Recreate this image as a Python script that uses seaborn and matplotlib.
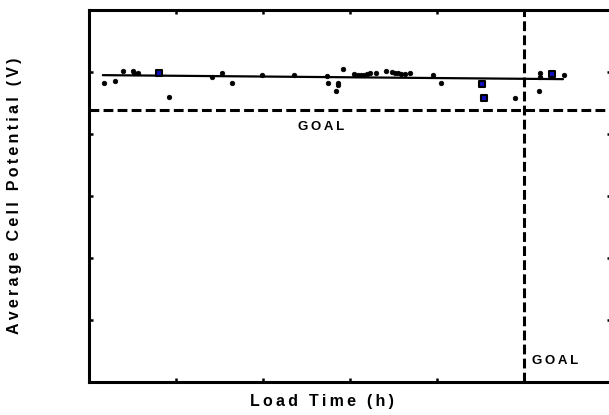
#!/usr/bin/env python3

import seaborn as sns
import matplotlib
matplotlib.use('Agg')
import matplotlib.pyplot as plt
import pandas as pd

# load time (h) and average cell potential (V)
time_black = [173, 301, 393, 509, 520, 566, 925, 1410, 1526, 1642, 1988, 2358,
              2740, 2751, 2867, 2867, 2844, 2925, 3052, 3064, 3098, 3133, 3168,
              3202, 3237, 3306, 3410, 3480, 3514, 3549, 3584, 3630, 3688, 3954,
              4046, 4902, 5191, 5191, 5179, 5457]
volt_black = [0.9645, 0.9710, 1.0032, 1.0032, 0.9968, 0.9968, 0.9194, 0.9839,
              0.9968, 0.9645, 0.9903, 0.9903, 0.9870, 0.9645, 0.9645, 0.9581,
              0.9387, 1.0097, 0.9935, 0.9903, 0.9903, 0.9903, 0.9903, 0.9935,
              0.9968, 0.9968, 1.0032, 1.0000, 0.9968, 0.9968, 0.9935, 0.9935,
              0.9968, 0.9903, 0.9645, 0.9161, 0.9968, 0.9839, 0.9387, 0.9903]
time_blue = [809, 4520, 4543, 5318]
volt_blue = [0.9968, 0.9613, 0.9161, 0.9935]

# linear trend
fit_time = [160, 5450]
fit_volt = [0.9903, 0.9774]

goal_time = 5000
goal_volt = 0.877

black_df = pd.DataFrame({'time': time_black, 'volt': volt_black})
blue_df = pd.DataFrame({'time': time_blue, 'volt': volt_blue})
fit_df = pd.DataFrame({'time': fit_time, 'volt': fit_volt})


def spaced(s):
    # loose letter spacing like the original
    return '\u2009'.join(s)


sns.set_style('ticks', {'axes.edgecolor': 'black', 'text.color': 'black',
                        'axes.labelcolor': 'black', 'xtick.color': 'black',
                        'ytick.color': 'black'})
plt.rcParams['font.family'] = ['Liberation Sans', 'DejaVu Sans']

fig = plt.figure(figsize=(6.09, 4.15), dpi=100)
ax = fig.add_axes([0.146, 0.0795, 0.857, 0.896])

ax.axhline(goal_volt, color='black', lw=2.2, ls=(0, (3.2, 1.4)))
ax.axvline(goal_time, color='black', lw=2.2, ls=(0, (3.2, 1.4)))

sns.lineplot(data=fit_df, x='time', y='volt', color='black', lw=1.6, ax=ax)
sns.scatterplot(data=black_df, x='time', y='volt', color='black', s=11,
                marker='o', edgecolor='black', linewidth=0.5, ax=ax, zorder=3)
sns.scatterplot(data=blue_df, x='time', y='volt', color='#1010c0', s=22,
                marker='s', edgecolor='black', linewidth=1.5, ax=ax, zorder=4)

ax.text(2670, 0.8226, spaced('GOAL'), ha='center', va='center',
        fontsize=9.5, fontweight='bold', color='black')
ax.text(5098, 0.0677, spaced('GOAL'), ha='left', va='center',
        fontsize=9.5, fontweight='bold', color='black')

ax.set_xlim(0, 6000)
ax.set_ylim(0, 1.2)
ax.set_xticks([1000, 2000, 3000, 4000])
ax.set_yticks([0.2, 0.4, 0.6, 0.8, 1.0])
ax.tick_params(direction='in', length=3, width=1.8, labelleft=False,
               labelbottom=False, top=True, right=True, color='black')
for sp in ax.spines.values():
    sp.set_linewidth(2.2)
    sp.set_color('black')

ax.set_xlabel(spaced('Load Time (h)'), fontsize=11.5, fontweight='bold',
              color='black')
ax.set_ylabel(spaced('Average Cell Potential (V)'), fontsize=11.5,
              fontweight='bold', color='black')
ax.xaxis.set_label_coords(0.446, -0.032)
ax.yaxis.set_label_coords(-0.128, 0.5)

plt.savefig('out.png', dpi=100)
